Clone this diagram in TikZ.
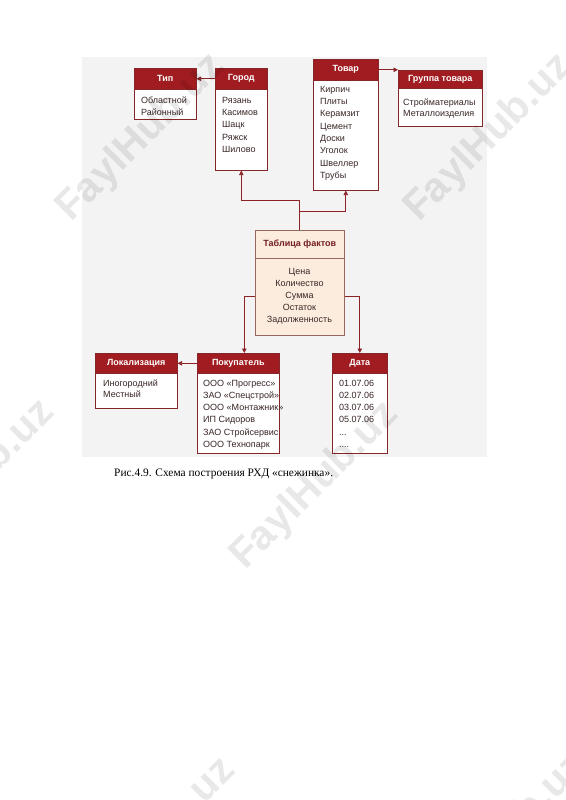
\documentclass[tikz,border=0pt]{standalone}
\usepackage{fontspec}
\setmainfont{Liberation Sans}
\newfontfamily\capfont{Liberation Serif}
\usetikzlibrary{arrows.meta}
\definecolor{bggray}{RGB}{243,243,243}
\definecolor{hdrred}{RGB}{160,28,32}
\definecolor{boxred}{RGB}{135,38,42}
\definecolor{itemtxt}{RGB}{58,38,38}
\definecolor{factfill}{RGB}{252,236,222}
\definecolor{factline}{RGB}{150,105,95}
\definecolor{facttitle}{RGB}{115,30,32}
\definecolor{connred}{RGB}{140,35,38}
\tikzset{
  hdr/.style={fill=hdrred, draw=boxred, line width=0.6pt, text=white,
    font=\fontsize{9}{11}\selectfont\bfseries, inner sep=0pt, anchor=north west},
  bodybox/.style={fill=white, draw=boxred, line width=0.6pt, inner sep=0pt, anchor=north west},
  item/.style={text=itemtxt, font=\fontsize{9}{11}\selectfont, inner sep=0pt, anchor=base west},
  factbox/.style={fill=factfill, draw=factline, line width=0.6pt, inner sep=0pt, anchor=north west},
  conn/.style={draw=connred, line width=0.8pt, -{Triangle[length=4.5pt,width=4.5pt]}},
  wm/.style={text=black, text opacity=0.09, font=\fontsize{41}{41}\selectfont\bfseries,
    rotate=45, inner sep=0pt}
}
\begin{document}
\begin{tikzpicture}[x=1pt,y=-1pt]
\useasboundingbox (0,0) rectangle (565,800);
\fill[white] (0,0) rectangle (565,800);
\fill[bggray] (82,57) rectangle (487,457);

% Тип
\node[bodybox, minimum width=62pt, minimum height=51pt] (tip) at (134,68) {};
\node[hdr, minimum width=62pt, minimum height=21pt] (tipH) at (134,68) {Тип};
\foreach \t [count=\i] in {Областной,Районный}
  \node[item] (tip-\i) at (141,103.5+11.8*\i-11.8) {\t};

% Город
\node[bodybox, minimum width=52pt, minimum height=102pt] (gorod) at (215,68) {};
\node[hdr, minimum width=52pt, minimum height=21pt] (gorodH) at (215,68) {Город};
\foreach \t [count=\i] in {Рязань,Касимов,Шацк,Ряжск,Шилово}
  \node[item] (gorod-\i) at (222,103.5+12.2*\i-12.2) {\t};

% Товар
\node[bodybox, minimum width=65pt, minimum height=131pt] (tovar) at (313,59) {};
\node[hdr, minimum width=65pt, minimum height=21pt] (tovarH) at (313,59) {Товар};
\foreach \t [count=\i] in {Кирпич,Плиты,Керамзит,Цемент,Доски,Уголок,Швеллер,Трубы}
  \node[item] (tovar-\i) at (320,92.3+12.3*\i-12.3) {\t};

% Группа товара
\node[bodybox, minimum width=84pt, minimum height=56pt] (grp) at (398,70) {};
\node[hdr, minimum width=84pt, minimum height=18pt] (grpH) at (398,70) {Группа товара};
\foreach \t [count=\i] in {Стройматериалы,Металлоизделия}
  \node[item] (grp-\i) at (403,105.3+11.5*\i-11.5) {\t};

% Таблица фактов
\node[factbox, minimum width=89pt, minimum height=77pt] (factB) at (255,258) {};
\node[factbox, minimum width=89pt, minimum height=28pt, text=facttitle,
  font=\fontsize{9}{11}\selectfont\bfseries] (factH) at (255,230) {Таблица фактов};
\foreach \t [count=\i] in {Цена,Количество,Сумма,Остаток,Задолженность}
  \node[item, anchor=base] (fact-\i) at (299.5,274.3+12*\i-12) {\t};

% Локализация
\node[bodybox, minimum width=82pt, minimum height=55pt] (lok) at (95,353) {};
\node[hdr, minimum width=82pt, minimum height=20pt] (lokH) at (95,353) {Локализация};
\foreach \t [count=\i] in {Иногородний,Местный}
  \node[item] (lok-\i) at (103,386.3+11.5*\i-11.5) {\t};

% Покупатель
\node[bodybox, minimum width=82pt, minimum height=100pt] (pok) at (197,353) {};
\node[hdr, minimum width=82pt, minimum height=20pt] (pokH) at (197,353) {Покупатель};
\foreach \t [count=\i] in {ООО «Прогресс»,ЗАО «Спецстрой»,ООО «Монтажник»,ИП Сидоров,ЗАО Стройсервис,ООО Технопарк}
  \node[item] (pok-\i) at (203,386.3+12.2*\i-12.2) {\t};

% Дата
\node[bodybox, minimum width=55pt, minimum height=100pt] (data) at (332,353) {};
\node[hdr, minimum width=55pt, minimum height=20pt] (dataH) at (332,353) {Дата};
\foreach \t [count=\i] in {01.07.06,02.07.06,03.07.06,05.07.06}
  \node[item] (data-\i) at (339,386.3+12.2*\i-12.2) {\t};
\node[item] (data-5) at (339,435.1) {...};
\node[item] (data-6) at (339,447.3) {....};

% connectors
\draw[conn] (gorodH.west) -- (tipH.east);
\draw[conn] (tovarH.east) -- (tovarH.east -| grp.west);
\draw[conn] (factH.north) -- ++(0,-30) -| (gorod.south);
\draw[conn] ([yshift=19pt]factH.north) -| (tovar.south);
\draw[conn] (factB.west) -| ([xshift=6pt]pokH.north);
\draw[conn] (factB.east) -| (dataH.north);
\draw[conn] (pokH.west) -- (lokH.east);

% caption
\node[anchor=base west, inner sep=0pt, font=\capfont\fontsize{11.4}{13}\selectfont] (cap)
  at (114,476) {Рис.4.9. Схема построения РХД «снежинка».};

% watermarks
\node[wm] (wm1) at (141,138) {FaylHub.uz};
\node[wm] (wm2) at (489,138) {FaylHub.uz};
\node[wm] (wm3) at (-29,484) {FaylHub.uz};
\node[wm] (wm4) at (315,486) {FaylHub.uz};
\node[wm] (wm5) at (152,842) {FaylHub.uz};
\node[wm] (wm6) at (503,838) {FaylHub.uz};
\end{tikzpicture}
\end{document}
